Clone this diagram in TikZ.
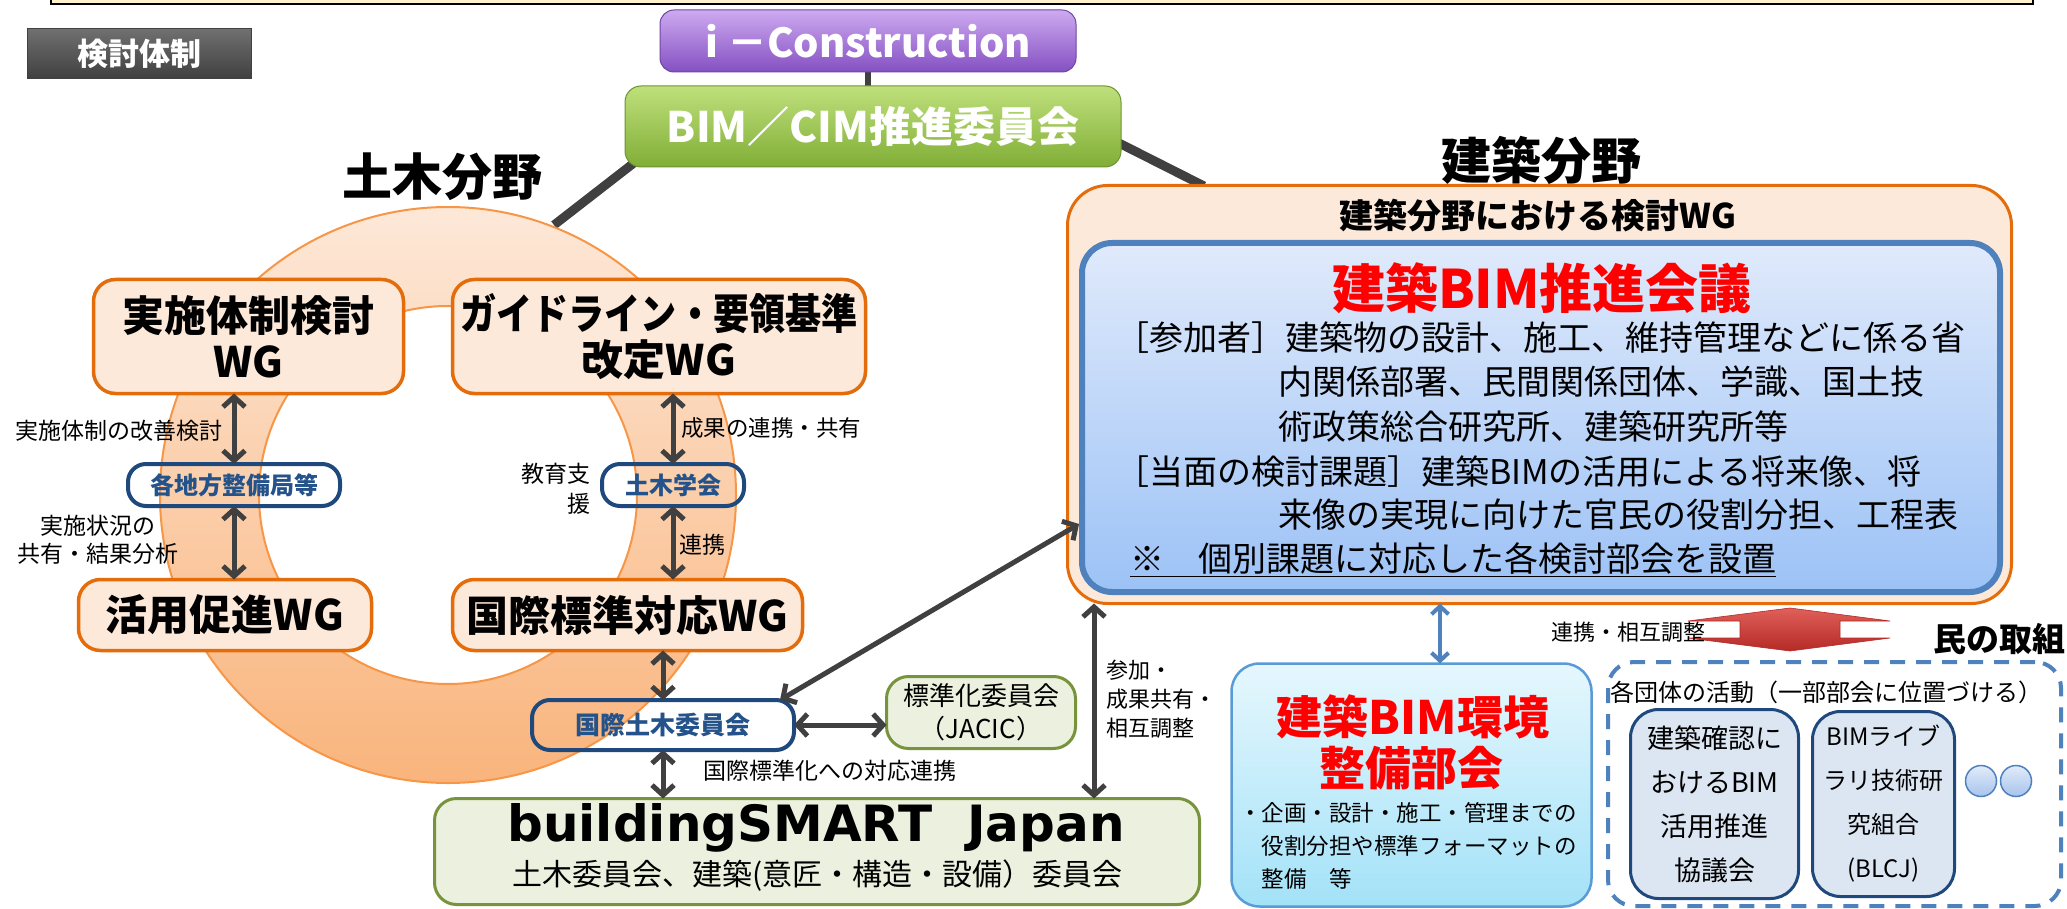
\documentclass[tikz,border=0pt]{standalone}
\usepackage{fontspec}
\setmainfont{Noto Sans CJK JP}
\newfontfamily\dvs{DejaVu Sans}
\usetikzlibrary{arrows.meta,calc}
\newcommand{\myfs}[2]{\fontsize{#1}{#2}\selectfont}
\definecolor{obord}{HTML}{E46C0A}
\definecolor{ofill}{HTML}{FDE9D9}
\definecolor{dblue}{HTML}{1F497D}
\definecolor{tblue}{HTML}{24528A}
\definecolor{sblue}{HTML}{4F81BD}
\definecolor{gbord}{HTML}{77933C}
\definecolor{gfill}{HTML}{EBF1DE}
\definecolor{agray}{HTML}{404040}
\definecolor{ringline}{HTML}{F79646}
\definecolor{ringtop}{HTML}{FDE8D8}
\definecolor{ringbot}{HTML}{F9B47C}
\definecolor{stripY}{HTML}{FFF2CC}
\definecolor{gtop}{HTML}{707070}
\definecolor{gbot}{HTML}{404040}
\definecolor{ptop}{HTML}{CDAAF0}
\definecolor{pbot}{HTML}{8450C2}
\definecolor{grtop}{HTML}{BFE07C}
\definecolor{grbot}{HTML}{80AE36}
\definecolor{bltop}{HTML}{E0EAFB}
\definecolor{blbot}{HTML}{9CC2F6}
\definecolor{envtop}{HTML}{E6F7FD}
\definecolor{envbot}{HTML}{A3E2F8}
\definecolor{envb}{HTML}{5B9BD5}
\definecolor{sfill}{HTML}{DCE6F2}
\definecolor{rtop}{HTML}{E0605A}
\definecolor{rmid}{HTML}{D93C37}
\definecolor{rbot}{HTML}{B52A26}
\definecolor{ctop}{HTML}{E2EBFA}
\definecolor{cbot}{HTML}{A7C3EC}
\pgfdeclarelayer{bg}
\pgfsetlayers{bg,main}
\begin{document}
\begin{tikzpicture}[x=1pt,y=-1pt,
  every node/.style={inner sep=0pt, outer sep=0pt},
  obox/.style={draw=obord, fill=ofill, line width=3.5pt, rounded corners=22pt, align=center, font=\bfseries\myfs{42}{46}},
  bbox/.style={draw=dblue, line width=4pt, rounded corners=18pt, text=tblue, font=\bfseries\myfs{24}{28}},
  gbox/.style={draw=gbord, fill=gfill, line width=3pt, rounded corners=22pt, align=center},
  sbox/.style={draw=dblue, fill=sfill, line width=3pt, rounded corners=28pt, align=center},
  dar/.style={draw=agray, line width=5pt, {Straight Barb[length=10pt,width=22pt]}-{Straight Barb[length=10pt,width=22pt]}},
  bar/.style={draw=sblue, line width=4pt, {Straight Barb[length=8pt,width=17pt]}-{Straight Barb[length=8pt,width=17pt]}},
  conn/.style={draw=agray, line width=9pt},
  lab/.style={font=\myfs{23}{28}},
  para/.style={anchor=west, font=\myfs{34}{34}},
]
\useasboundingbox (0,0) rectangle (2067,909);

% ---------- nodes ----------
\node[draw=black!75, line width=1pt, top color=gtop, bottom color=gbot, minimum width=224pt, minimum height=50pt,
      text=white, font=\bfseries\myfs{31}{31}] (kentou) at (139.5,53.5) {検討体制};
\node[draw=pbot!85!black, line width=1pt, top color=ptop, bottom color=pbot, rounded corners=14pt,
      minimum width=416pt, minimum height=62pt, text=white, font=\bfseries\myfs{40}{40}] (icon) at (868,41) {i －Construction};
\node[draw=grbot!85!black, line width=1pt, top color=grtop, bottom color=grbot, rounded corners=16pt,
      minimum width=496pt, minimum height=81pt, text=white, font=\bfseries\myfs{42}{42}] (bimcim) at (873,126.5) {BIM／CIM推進委員会};

\node[font=\bfseries\myfs{50}{50}] (doboku) at (442,177) {土木分野};
\node[font=\bfseries\myfs{50}{50}] (kenchiku) at (1541,160) {建築分野};

\coordinate (ringc) at (448,495);
\coordinate (ringtouch) at (554,225);
\coordinate (bigtouch) at (1204,186);

% right side big box
\node[draw=obord, fill=ofill, line width=3pt, rounded corners=40pt, minimum width=944pt, minimum height=418pt] (big) at (1539.5,394.5) {};
\node[font=\bfseries\myfs{34}{34}] (bigT) at (1538,216) {建築分野における検討WG};
\node[draw=sblue, line width=6pt, rounded corners=30pt, top color=bltop, bottom color=blbot,
      minimum width=918pt, minimum height=349pt] (blue) at (1541,417.5) {};
\node[text=red, font=\bfseries\myfs{53}{53}] (redT) at (1542,288) {建築BIM推進会議};
\node[para] (L1) at (1115,338) {［参加者］建築物の設計、施工、維持管理などに係る省};
\node[para] (L2) at (1278,382) {内関係部署、民間関係団体、学識、国土技};
\node[para] (L3) at (1278,427) {術政策総合研究所、建築研究所等};
\node[para] (L4) at (1115,472) {［当面の検討課題］建築BIMの活用による将来像、将};
\node[para] (L5) at (1278,515) {来像の実現に向けた官民の役割分担、工程表};
\node[para] (L6) at (1130,560) {\underline{※　個別課題に対応した各検討部会を設置}};

% environment committee
\node[draw=envb, line width=2.5pt, rounded corners=28pt, top color=envtop, bottom color=envbot,
      minimum width=360pt, minimum height=243pt] (env) at (1411.5,785) {};
\node[text=red, font=\bfseries\myfs{46}{46}] (envT1) at (1413,717) {建築BIM環境};
\node[text=red, font=\bfseries\myfs{46}{46}] (envT2) at (1411,768) {整備部会};
\node[anchor=west, align=left, font=\myfs{22.5}{33}] (envB) at (1239,846) {・企画・設計・施工・管理までの\\　役割分担や標準フォーマットの\\　整備　等};

% private sector
\node[draw=sblue, line width=4pt, dash pattern=on 15pt off 11pt, rounded corners=26pt,
      minimum width=453pt, minimum height=244pt] (priv) at (1834.5,784) {};
\node[anchor=west, font=\myfs{24}{24}] (privT) at (1610,692) {各団体の活動（一部部会に位置づける）};
\node[sbox, minimum width=168pt, minimum height=189pt, font=\myfs{27}{44}] (sb1) at (1714.5,804) {建築確認に\\おけるBIM\\活用推進\\協議会};
\node[sbox, minimum width=142pt, minimum height=185pt, font=\myfs{24}{44}] (sb2) at (1883.5,804) {BIMライブ\\ラリ技術研\\究組合\\(BLCJ)};
\node[circle, draw=sblue, line width=1.5pt, top color=ctop, bottom color=cbot, minimum size=31pt] (c1) at (1981,781) {};
\node[circle, draw=sblue, line width=1.5pt, top color=ctop, bottom color=cbot, minimum size=31pt] (c2) at (2016,781) {};
\path[top color=rtop, middle color=rmid, bottom color=rbot, draw=rbot, line width=0.6pt]
  (1790,608) -- (1890,621) -- (1840,621) -- (1840,638) -- (1890,638) -- (1790,651)
  -- (1688,638) -- (1740,638) -- (1740,621) -- (1688,621) -- cycle;
\node[font=\myfs{22}{22}] (renkeiT) at (1628,632) {連携・相互調整};
\node[anchor=east, font=\bfseries\myfs{33}{33}] (taminT) at (2065,639) {民の取組};

% civil engineering side
\node[obox, minimum width=310pt, minimum height=114pt] (jisshi) at (248.5,336.5) {実施体制検討\\WG};
\node[obox, minimum width=413pt, minimum height=114pt] (guide) at (659,336.5) {\scalebox{0.86}[1]{ガイドライン・要領基準}\\改定WG};
\node[obox, minimum width=293pt, minimum height=71pt] (katsuyo) at (225,615) {活用促進WG};
\node[obox, minimum width=350pt, minimum height=71pt] (kokusaiWG) at (627.5,615) {国際標準対応WG};
\node[bbox, minimum width=212pt, minimum height=42pt] (chihou) at (234,485) {各地方整備局等};
\node[bbox, minimum width=142pt, minimum height=42pt] (gakkai) at (673,485) {土木学会};
\node[bbox, minimum width=262pt, minimum height=50pt, font=\bfseries\myfs{25}{28}] (kokudo) at (663,725) {国際土木委員会};
\node[gbox, minimum width=189pt, minimum height=72pt, font=\myfs{26}{33}] (jacic) at (981,712.5) {標準化委員会\\（JACIC）};
\node[gbox, minimum width=765pt, minimum height=106pt] (bsj) at (817,851.5) {};
\node[font=\dvs\bfseries\myfs{50}{50}] (bsjT) at (816,828) {buildingSMART\hspace{0.7em}Japan};
\node[font=\myfs{30}{30}] (bsjS) at (817.5,876) {土木委員会、建築(意匠・構造・設備）委員会};

% labels
\node[lab, anchor=east] (lb1) at (222,431) {実施体制の改善検討};
\node[lab, align=center] (lb2) at (98,540) {実施状況の\\共有・結果分析};
\node[lab, anchor=west, font=\myfs{22.5}{28}] (lb3) at (681,428) {成果の連携・共有};
\node[lab, anchor=east, align=right, font=\myfs{23}{30}] (lb4) at (590,489) {教育支\\援};
\node[lab, anchor=west] (lb5) at (679,545) {連携};
\node[lab] (lb6) at (830,771) {国際標準化への対応連携};
\node[lab, anchor=west, align=left, font=\myfs{22}{29}] (lb7) at (1106,699) {参加・\\成果共有・\\相互調整};

% ---------- background: lines and ring ----------
\begin{pgfonlayer}{bg}
\fill[white] (0,0) rectangle (2067,909);
\draw[fill=stripY, line width=2pt] (51,-10) rectangle (2033,4);
\draw[draw=agray, line width=6pt] (icon.south) -- (icon.south |- bimcim.north);
\draw[conn] ($(bimcim.south west)+(14,-8)$) -- (ringtouch);
\draw[conn] ($(bimcim.south east)+(-14,-30)$) -- (bigtouch);
\path[draw=ringline, line width=2pt, top color=ringtop, bottom color=ringbot, even odd rule]
  (ringc) circle[radius=288pt] (ringc) circle[radius=189pt];
\end{pgfonlayer}

% ---------- arrows ----------
\coordinate (a9) at (1094,0);
\coordinate (a10) at (1440,0);
\draw[dar] (chihou.north) -- (chihou.north |- jisshi.south);
\draw[dar] (chihou.south) -- (chihou.south |- katsuyo.north);
\draw[dar] (gakkai.north) -- (gakkai.north |- guide.south);
\draw[dar] (gakkai.south) -- (gakkai.south |- kokusaiWG.north);
\draw[dar] (kokudo.north) -- (kokudo.north |- kokusaiWG.south);
\draw[dar] (kokudo.south) -- (kokudo.south |- bsj.north);
\draw[dar] (kokudo.east) -- (kokudo.east -| jacic.west);
\draw[dar] ($(kokudo.north east)+(-14,0)$) -- ($(blue.south west)+(-3,-68)$);
\draw[dar] (bsj.north -| a9) -- (big.south -| a9);
\draw[bar] (env.north -| a10) -- (big.south -| a10);
\end{tikzpicture}
\end{document}
